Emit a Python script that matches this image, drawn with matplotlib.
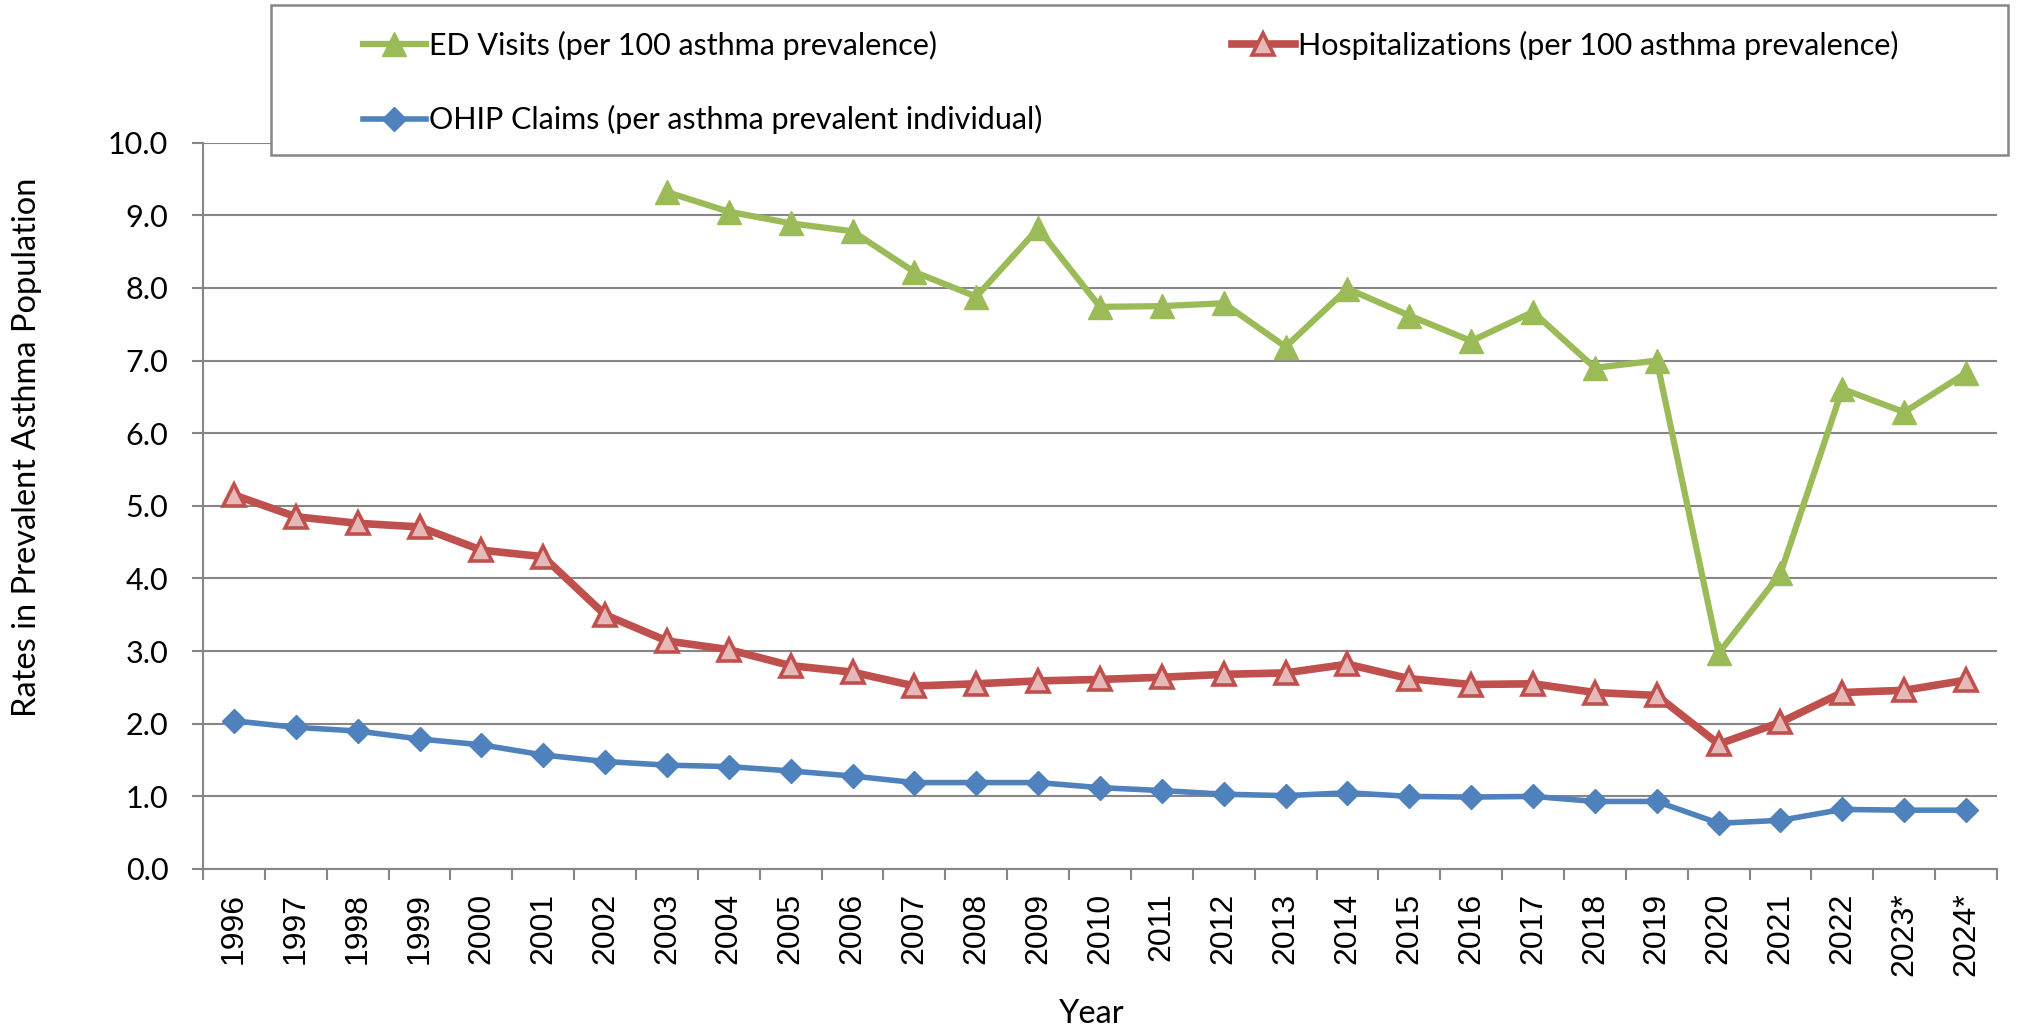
import matplotlib.pyplot as plt
import numpy as np
from matplotlib.lines import Line2D
from matplotlib.patches import Rectangle

################################# DATA ####################################################

years = ['1996', '1997', '1998', '1999', '2000', '2001', '2002', '2003', '2004', '2005',
         '2006', '2007', '2008', '2009', '2010', '2011', '2012', '2013', '2014', '2015',
         '2016', '2017', '2018', '2019', '2020', '2021', '2022', '2023*', '2024*']

ed_visits = [np.nan, np.nan, np.nan, np.nan, np.nan, np.nan, np.nan,
             9.32, 9.05, 8.89, 8.78, 8.22, 7.88, 8.82, 7.74, 7.75, 7.79, 7.19, 7.99,
             7.62, 7.27, 7.67, 6.90, 7.00, 2.97, 4.07, 6.61, 6.29, 6.83]

hospitalizations = [5.15, 4.85, 4.76, 4.71, 4.39, 4.30, 3.50, 3.14, 3.02, 2.80,
                    2.71, 2.52, 2.55, 2.59, 2.61, 2.64, 2.68, 2.70, 2.82, 2.62,
                    2.54, 2.55, 2.43, 2.39, 1.72, 2.02, 2.43, 2.46, 2.60]

ohip_claims = [2.04, 1.95, 1.90, 1.79, 1.71, 1.57, 1.48, 1.43, 1.41, 1.35,
               1.28, 1.19, 1.19, 1.19, 1.12, 1.08, 1.03, 1.01, 1.05, 1.00,
               0.99, 1.00, 0.93, 0.93, 0.63, 0.67, 0.82, 0.81, 0.81]

y_ticks = [0, 1, 2, 3, 4, 5, 6, 7, 8, 9, 10]
y_tick_labels = ['0.0', '1.0', '2.0', '3.0', '4.0', '5.0', '6.0', '7.0', '8.0', '9.0', '10.0']

label_ed = 'ED Visits (per 100 asthma prevalence)'
label_hosp = 'Hospitalizations (per 100 asthma prevalence)'
label_ohip = 'OHIP Claims (per asthma prevalent individual)'

################################# STYLE ###################################################

W, H = 2023, 1027
green = '#9BBB59'
red = '#C0504D'
pink = '#E6B9B8'
blue = '#4F81BD'
grey = '#868686'
text_font = 'Lato'
year_font = 'Liberation Sans'

ed_style = dict(color=green, lw=4.5, marker='^', ms=17, mfc=green, mec=green)
hosp_style = dict(color=red, lw=5.5, marker='^', ms=16, mfc=pink, mec=red, mew=2.6)
ohip_style = dict(color=blue, lw=4, marker='D', ms=12, mfc=blue, mec=blue)

###########################################################################################

fig = plt.figure(figsize=(W / 100, H / 100), dpi=100)
ax = fig.add_axes([203 / W, 1 - 869 / H, (1997 - 203) / W, (869 - 142.7) / H])

x = np.arange(len(years))

ax.plot(x, ohip_claims, solid_joinstyle='round', zorder=3, **ohip_style)
ax.plot(x, hospitalizations, solid_joinstyle='round', zorder=4, **hosp_style)
ax.plot(x, ed_visits, solid_joinstyle='round', zorder=5, **ed_style)

ax.set_xlim(-0.5, len(years) - 0.5)
ax.set_ylim(0, 10)

# ticks between categories, labels at category centres
ax.set_xticks(np.arange(len(years) + 1) - 0.5)
ax.set_xticklabels([])
ax.set_xticks(x, minor=True)
ax.set_xticklabels(years, minor=True, rotation=90, fontsize=23,
                   family=year_font, va='top')
ax.tick_params(axis='x', which='major', length=8, width=1.5, color=grey, direction='out')
ax.tick_params(axis='x', which='minor', length=0, pad=17)

ax.set_yticks(y_ticks)
ax.set_yticklabels(y_tick_labels, fontsize=22, family=text_font)
ax.tick_params(axis='y', length=8, width=1.5, color=grey, direction='out', pad=17)

ax.grid(axis='y', color=grey, lw=1.5)
ax.set_axisbelow(True)
for side in ['top', 'right']:
    ax.spines[side].set_visible(False)
for side in ['left', 'bottom']:
    ax.spines[side].set_color(grey)
    ax.spines[side].set_linewidth(1.5)

fig.text(27 / W, 1 - 447 / H, 'Rates in Prevalent Asthma Population', rotation=90,
         ha='center', va='center', fontsize=23.5, family=text_font)
fig.text(1092 / W, 1 - 1023 / H, 'Year', ha='center', va='baseline',
         fontsize=23.5, family=text_font)

# legend box sits on top of the plot area
fig.patches.append(Rectangle((271 / W, 1 - 155 / H), (2008 - 271) / W, 150 / H,
                             transform=fig.transFigure, facecolor='white',
                             edgecolor=grey, lw=1.8, zorder=3))

h_ed = Line2D([], [], **ed_style)
h_hosp = Line2D([], [], **hosp_style)
h_ohip = Line2D([], [], **ohip_style)

leg_kw = dict(loc='upper left', frameon=False, borderpad=0, borderaxespad=0,
              handlelength=2.05, handletextpad=0.1, labelspacing=1.48, numpoints=1,
              prop={'family': text_font, 'size': 22})
leg1 = fig.legend([h_ed, h_ohip], [label_ed, label_ohip],
                  bbox_to_anchor=(363 / W, 1 - 31 / H), **leg_kw)
leg2 = fig.legend([h_hosp], [label_hosp],
                  bbox_to_anchor=(1232 / W, 1 - 31 / H), **leg_kw)
leg1.set_zorder(6)
leg2.set_zorder(6)

plt.savefig('out.png', dpi=100)
